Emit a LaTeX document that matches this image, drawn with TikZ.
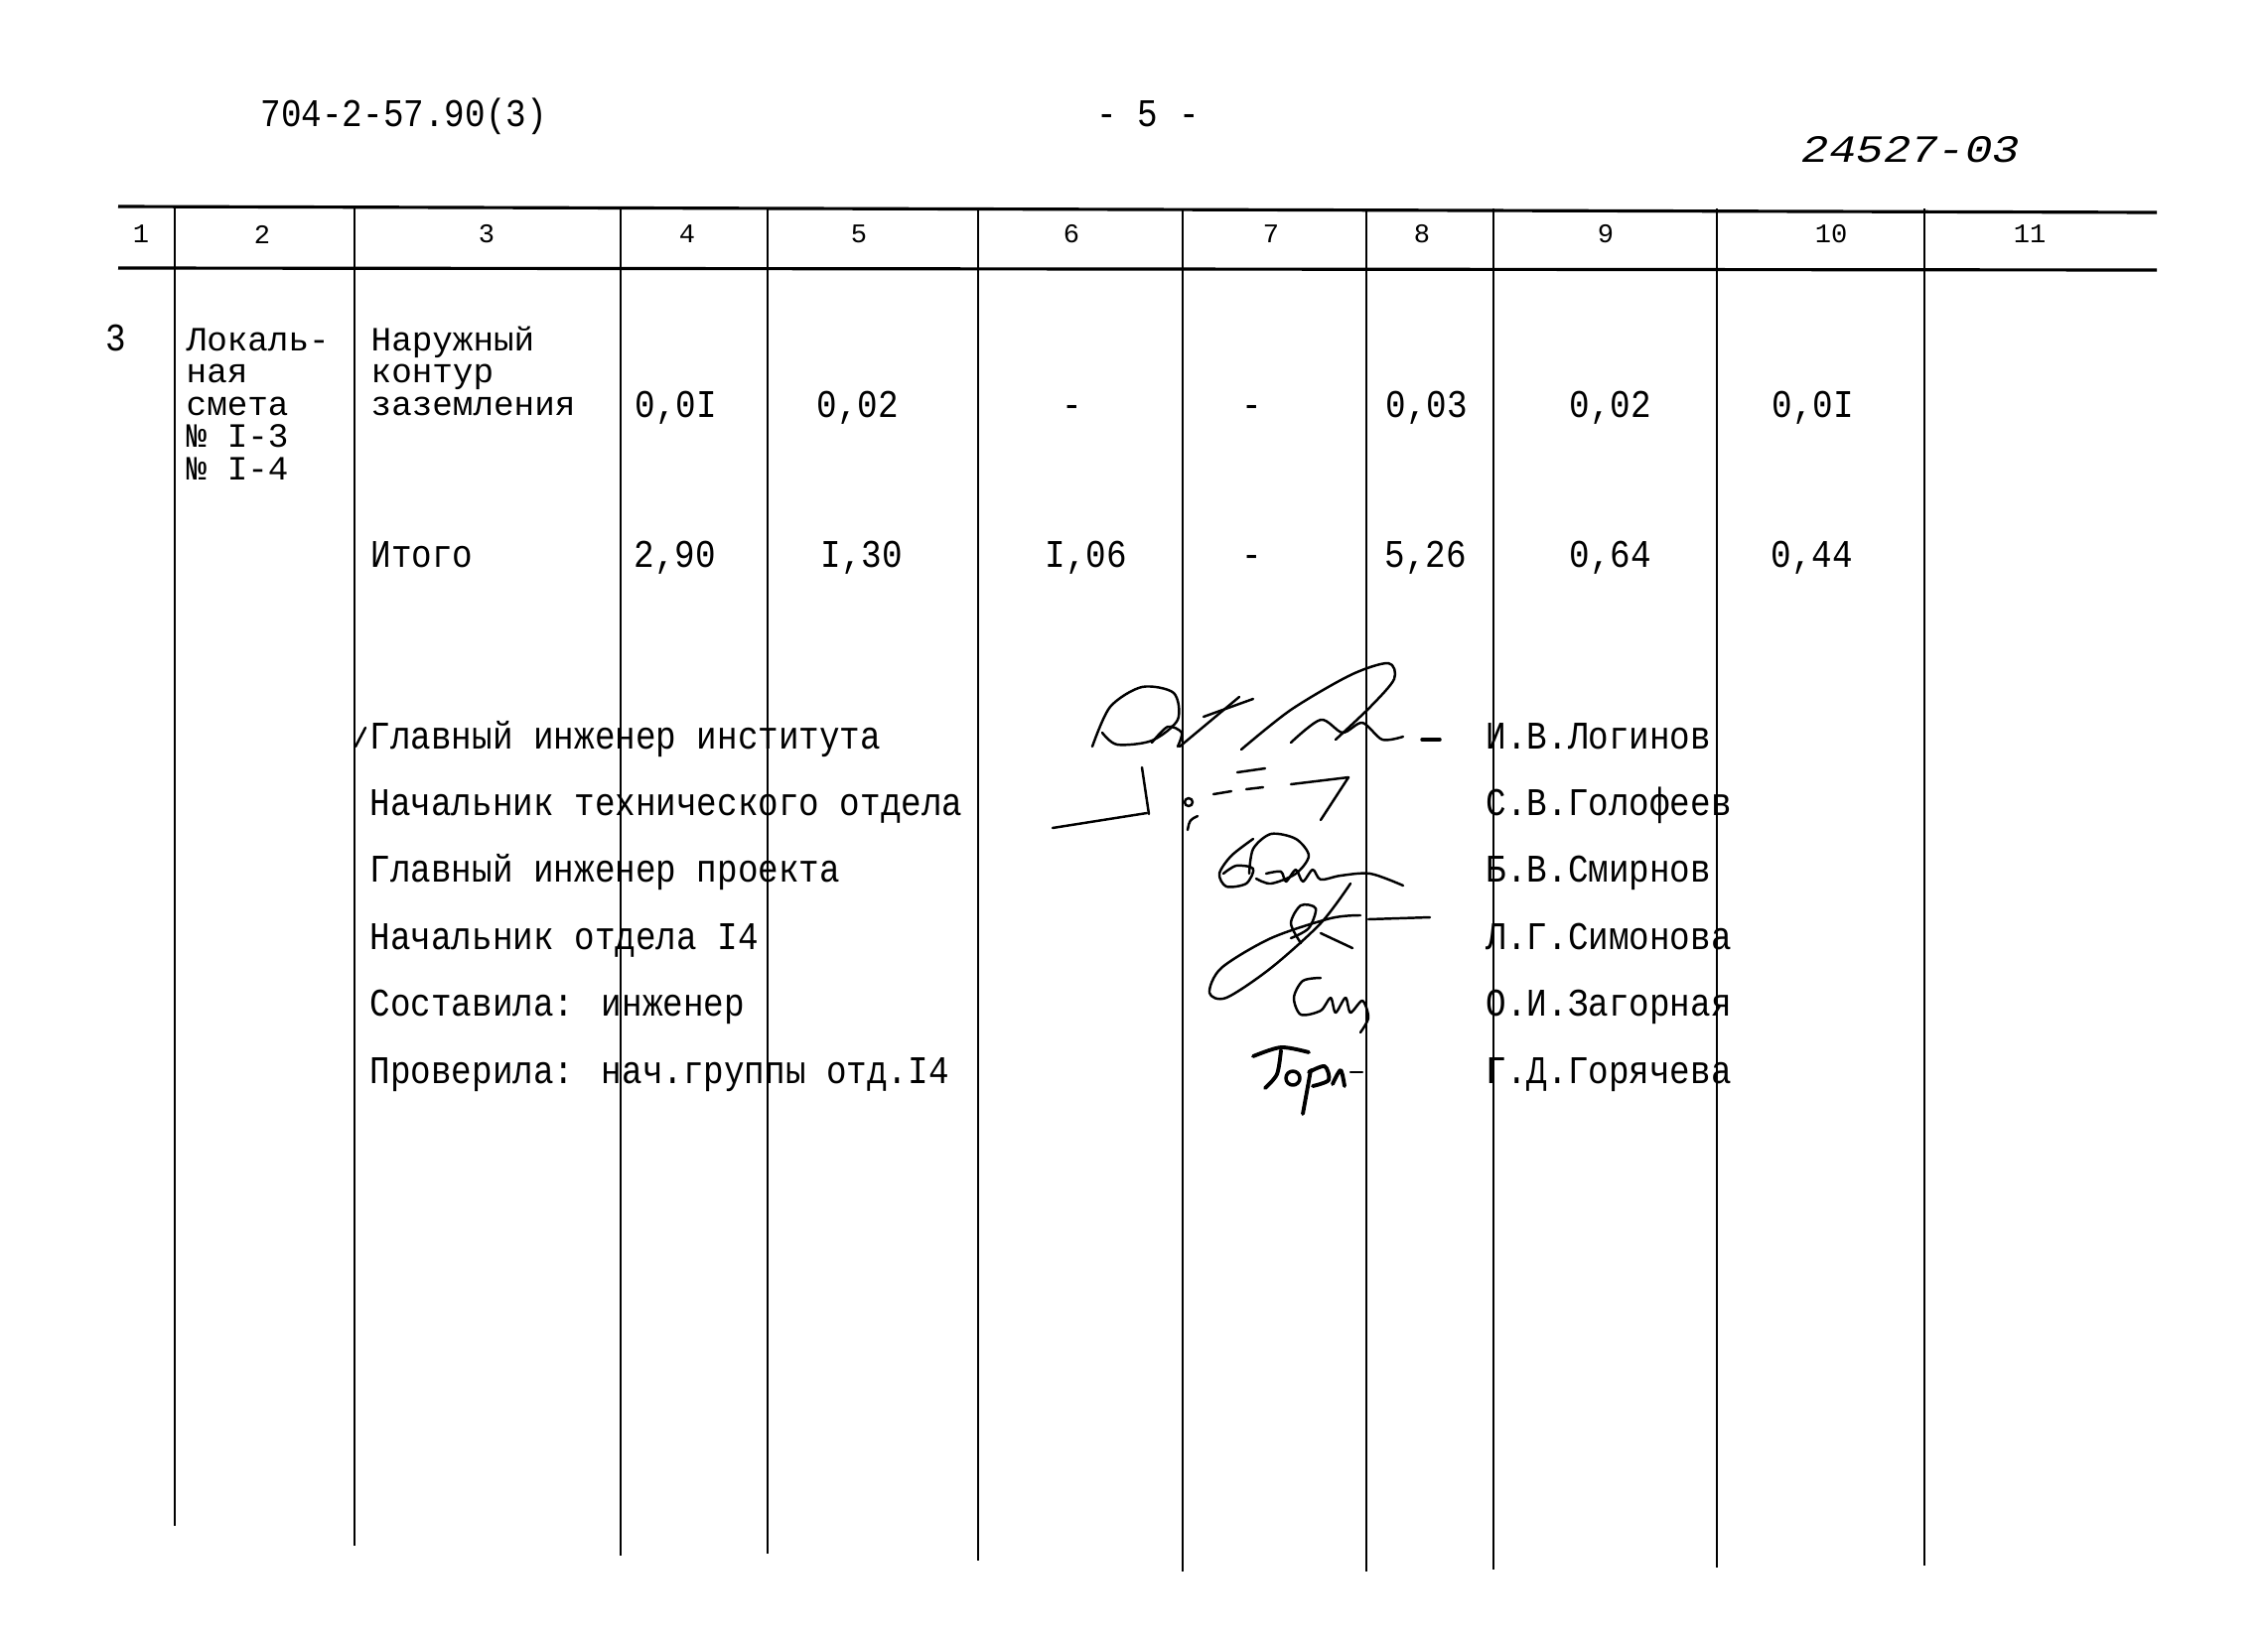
\documentclass[tikz,border=0pt]{standalone}
\usepackage{fontspec}
\newfontfamily\tw{Liberation Mono}
\tikzset{
  typed/.style = {font=\tw\fontsize{9.75}{10}\selectfont, inner sep=0pt, anchor=base west, yscale=1.15},
  stacked/.style = {typed, yscale=1/1.15},
  hdr/.style = {font=\tw\fontsize{7.7}{8}\selectfont, inner sep=0pt},
  hand/.style = {font=\tw\itshape\fontsize{13}{14}\selectfont, inner sep=0pt, anchor=base west, yscale=0.85},
  rule/.style = {line width=0.9pt},
  colline/.style = {line width=0.55pt},
  sig/.style = {line width=0.7pt, line cap=round, line join=round},
}

\begin{document}
\begin{tikzpicture}[x=0.01cm, y=-0.01cm]
	\useasboundingbox (0,0) rectangle (2284,1654);
	
	% page heading
	\node[typed] (series) at (262,127) {704-2-57.90(3)};
	\node[typed] (page) at (1104,127) {- 5 -};
	\node[hand] (regno) at (1814,163) {24527-03};
	
	% table frame
	\draw[rule] (119,208) -- (2172,214);
	\draw[rule] (119,270) -- (2172,272);
	\foreach \x/\yb in {176/1537, 357/1557, 625/1567, 773/1565, 985/1572, 1191/1583, 1376/1583, 1504/1581, 1729/1579, 1938/1577} {
		\draw[colline] (\x,210) -- (\x,\yb);
	}
	
	% column numbers
	\foreach \n/\x in {1/142, 2/264, 3/490, 4/692, 5/865, 6/1079, 7/1280, 8/1432, 9/1617, 10/1844, 11/2044} {
		\node[hdr] (h\n) at (\x,236) {\n};
	}
	
	% row 3
	\node[typed] (rownum) at (106,353) {3};
	\foreach \txt [count=\i] in {Локаль-, ная, смета, № I-3, № I-4} {
		\node[stacked] (doc\i) at (187,{353+32.5*(\i-1)}) {\txt};
	}
	\foreach \txt [count=\i] in {Наружный, контур, заземления} {
		\node[stacked] (work\i) at (373,{353+32.5*(\i-1)}) {\txt};
	}
	\node[typed] (a4) at (639,420) {0,0I};
	\node[typed] (a5) at (822,420) {0,02};
	\node[typed] (a6) at (1069,420) {-};
	\node[typed] (a7) at (1250,420) {-};
	\node[typed] (a8) at (1395,420) {0,03};
	\node[typed] (a9) at (1580,420) {0,02};
	\node[typed] (a10) at (1784,420) {0,0I};
	
	% total
	\node[typed] (t3) at (373,571) {Итого};
	\node[typed] (t4) at (638,571) {2,90};
	\node[typed] (t5) at (826,571) {I,30};
	\node[typed] (t6) at (1052,571) {I,06};
	\node[typed] (t7) at (1250,571) {-};
	\node[typed] (t8) at (1394,571) {5,26};
	\node[typed] (t9) at (1580,571) {0,64};
	\node[typed] (t10) at (1783,571) {0,44};
	
	% signatures block
	\draw[sig] (358,752) -- (368,733);
	\foreach \role/\who [count=\i] in {Главный инженер института/И.В.Логинов, Начальник технического отдела/С.В.Голофеев, Главный инженер проекта/Б.В.Смирнов, Начальник отдела I4/Л.Г.Симонова, Составила: инженер/О.И.Загорная, Проверила: нач.группы отд.I4/Г.Д.Горячева} {
		\node[typed] (role\i) at (372,{754+67.4*(\i-1)}) {\role};
		\node[typed] (name\i) at (1496,{754+67.4*(\i-1)}) {\who};
	}
	
	% handwritten marks
	\draw[sig] plot[smooth] coordinates {(1100,752) (1118,712) (1150,692) (1182,698) (1186,725) (1160,746) (1125,750) (1110,738)};
	\draw[sig] plot[smooth] coordinates {(1160,748) (1176,732) (1190,738) (1186,752)};
	\draw[sig] (1188,752) -- (1248,702);
	\draw[sig] (1212,722) -- (1262,704);
	\draw[sig] plot[smooth] coordinates {(1250,755) (1300,715) (1360,680) (1398,668) (1404,684) (1380,712) (1345,745)};
	\draw[sig] plot[smooth] coordinates {(1300,748) (1330,725) (1352,738) (1372,728) (1392,745) (1413,742)};
	\draw[sig, line width=1pt] (1432,745) -- (1450,745);
	
	\draw[sig] (1060,834) -- (1155,819);
	\draw[sig] (1150,773) -- (1157,820);
	\draw[sig] (1197,808) circle (4);
	\draw[sig] (1222,800) -- (1240,797);
	\draw[sig] (1255,795) -- (1272,793);
	\draw[sig] (1246,778) -- (1274,774);
	\draw[sig] (1300,790) -- (1358,783) -- (1330,826);
	\draw[sig] (1196,836) .. controls (1198,826) .. (1206,822);
	
	\draw[sig] plot[smooth] coordinates {(1262,845) (1240,862) (1228,880) (1235,893) (1255,890) (1262,875) (1245,872) (1232,880)};
	\draw[sig] plot[smooth] coordinates {(1258,880) (1262,855) (1280,840) (1305,845) (1318,862) (1305,880) (1280,890) (1265,885)};
	\draw[sig] plot[smooth] coordinates {(1275,880) (1290,878) (1295,888) (1305,876) (1312,888) (1322,876) (1330,886) (1350,882) (1380,880) (1413,892)};
	
	\draw[sig] plot[smooth] coordinates {(1360,890) (1330,930) (1280,975) (1235,1005) (1218,1000) (1230,975) (1280,945) (1340,925) (1370,922)};
	\draw[sig] plot[smooth] coordinates {(1310,950) (1300,930) (1310,912) (1325,915) (1318,935) (1300,945)};
	\draw[sig] (1378,926) -- (1440,924);
	\draw[sig] (1330,940) -- (1362,955);
	
	\draw[sig] plot[smooth] coordinates {(1330,985) (1312,988) (1303,1005) (1310,1022) (1330,1018) (1340,1005) (1345,1020) (1355,1005) (1360,1020) (1372,1008) (1378,1025) (1370,1040)};
	
	\draw[sig, line width=1.1pt] plot[smooth] coordinates {(1262,1064) (1290,1055) (1318,1060)};
	\draw[sig, line width=1.1pt] plot[smooth] coordinates {(1290,1058) (1286,1082) (1274,1096)};
	\draw[sig, line width=1pt] (1302,1086) circle (7);
	\draw[sig, line width=1.1pt] (1320,1078) -- (1312,1122);
	\draw[sig, line width=1.1pt] plot[smooth] coordinates {(1318,1080) (1334,1074) (1338,1088) (1322,1094)};
	\draw[sig, line width=1.1pt] plot[smooth] coordinates {(1342,1092) (1350,1078) (1354,1094)};
	\draw[sig] (1360,1080) -- (1372,1080);
\end{tikzpicture}
\end{document}
